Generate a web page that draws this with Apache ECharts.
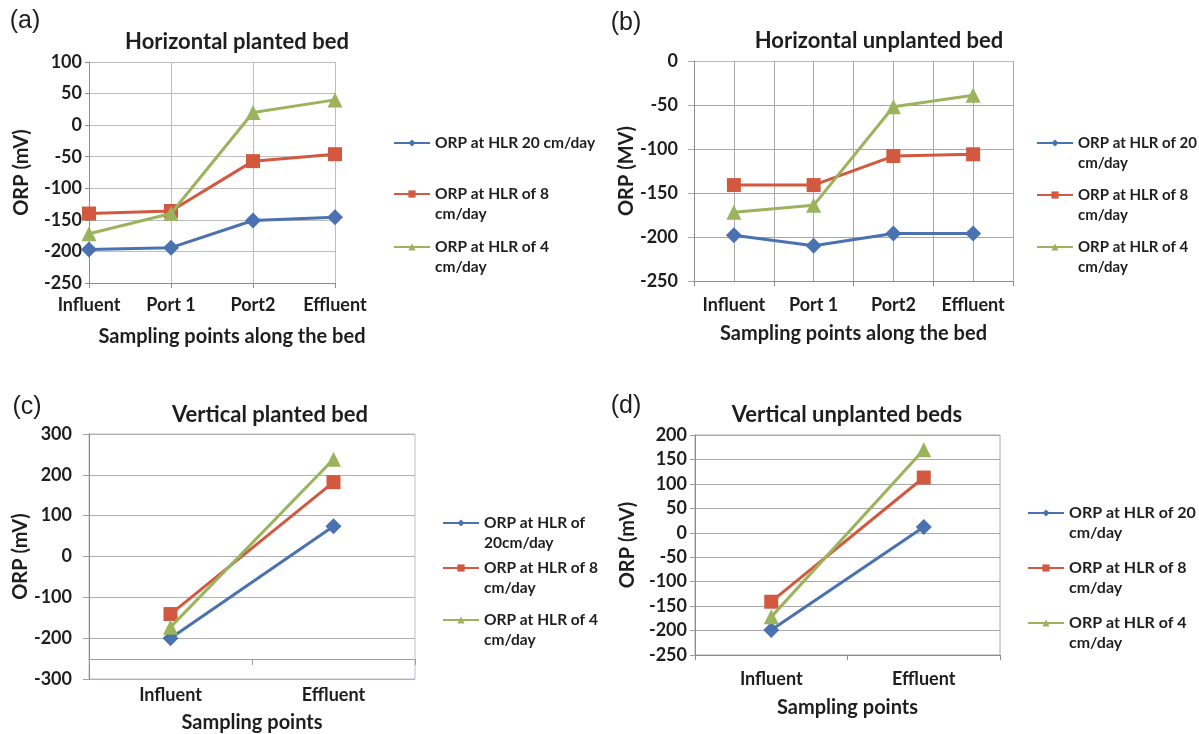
<!DOCTYPE html>
<html>
<head>
<meta charset="utf-8">
<script src="https://cdn.jsdelivr.net/npm/echarts@6/dist/echarts.min.js"></script>
<style>
  html, body { margin: 0; padding: 0; background: #fff; }
  #chart { width: 1199px; height: 734px; }
</style>
</head>
<body>
<div id="chart"></div>
<script>
// Sampling points along each bed
const bedPoints = ['Influent', 'Port 1', 'Port2', 'Effluent'];
const endPoints = ['Influent', 'Effluent'];

// (a) Horizontal planted bed, ORP (mV)
const hpHLR20 = [-197, -194, -151, -146];
const hpHLR8 = [-140, -136, -57, -46];
const hpHLR4 = [-172, -140, 20, 40];

// (b) Horizontal unplanted bed, ORP (mV)
const huHLR20 = [-198, -210, -196, -196];
const huHLR8 = [-141, -141, -108, -106];
const huHLR4 = [-172, -164, -52, -39];

// (c) Vertical planted bed, ORP (mV)
const vpHLR20 = [-200, 74];
const vpHLR8 = [-141, 182];
const vpHLR4 = [-173, 238];

// (d) Vertical unplanted beds, ORP (mV)
const vuHLR20 = [-199, 12];
const vuHLR8 = [-141, 113];
const vuHLR4 = [-172, 170];

// Value-axis tick labels of each panel
const ticksA = [-250, -200, -150, -100, -50, 0, 50, 100];
const ticksB = [-250, -200, -150, -100, -50, 0];
const ticksC = [-300, -200, -100, 0, 100, 200, 300];
const ticksD = [-250, -200, -150, -100, -50, 0, 50, 100, 150, 200];

// Series names (legend text, line breaks as shown)
const namesA = ['ORP at HLR 20 cm/day', 'ORP at HLR of 8\ncm/day', 'ORP at HLR of 4\ncm/day'];
const namesB = ['ORP at HLR of 20\ncm/day', 'ORP at HLR of 8\ncm/day', 'ORP at HLR of 4\ncm/day'];
const namesC = ['ORP at HLR of\n20cm/day', 'ORP at HLR of 8\ncm/day', 'ORP at HLR of 4\ncm/day'];
const namesD = ['ORP at HLR of 20\ncm/day', 'ORP at HLR of 8\ncm/day', 'ORP at HLR of 4\ncm/day'];

const BLUE = '#4a72b0';
const RED = '#d2593f';
const GREEN = '#9bb35c';
const TEXT = '#1e1e1e';
const FONT = 'Lato, "Noto Sans", sans-serif';
const TICK_SIZE = 18;
const NAME_SIZE = 20;

const seriesLook = [
  { color: BLUE, symbol: 'diamond', size: 16 },
  { color: RED, symbol: 'rect', size: 14 },
  { color: GREEN, symbol: 'triangle', size: 15 }
];

function makeSeries(names, datasets, xIndex, yIndex) {
  return datasets.map((data, i) => ({
    type: 'line',
    name: names[i],
    data: data,
    xAxisIndex: xIndex,
    yAxisIndex: yIndex,
    symbol: seriesLook[i].symbol,
    symbolSize: seriesLook[i].size,
    showSymbol: true,
    lineStyle: { width: 3, color: seriesLook[i].color },
    itemStyle: { color: seriesLook[i].color },
    emphasis: { disabled: true },
    animation: false,
    z: 3 + i
  }));
}

function tickText(margin) {
  return {
    fontFamily: FONT, fontWeight: 'bold', fontSize: TICK_SIZE, color: TEXT,
    margin: margin, interval: 0, hideOverlap: false
  };
}

function valueAxis(gridIndex, ticks, opts) {
  return Object.assign({
    type: 'value',
    gridIndex: gridIndex,
    min: ticks[0],
    max: ticks[ticks.length - 1],
    interval: ticks[1] - ticks[0],
    name: 'ORP (mV)',
    nameLocation: 'middle',
    nameGap: 57,
    nameTextStyle: { fontFamily: FONT, fontWeight: 'bold', fontSize: NAME_SIZE, color: TEXT },
    axisLine: { show: true, lineStyle: { color: '#8c8c8c', width: 1 } },
    axisTick: { show: true, length: 4, lineStyle: { color: '#8c8c8c' } },
    axisLabel: tickText(8),
    splitLine: { show: true, lineStyle: { color: '#bdbdbd', width: 1 } }
  }, opts || {});
}

function categoryAxis(gridIndex, cats, opts) {
  return Object.assign({
    type: 'category',
    gridIndex: gridIndex,
    data: cats,
    boundaryGap: true,
    position: 'bottom',
    nameLocation: 'middle',
    nameGap: 43,
    nameTextStyle: { fontFamily: FONT, fontWeight: 'bold', fontSize: NAME_SIZE, color: TEXT },
    axisLine: { show: true, onZero: false, lineStyle: { color: '#8c8c8c', width: 1 } },
    axisTick: { show: true, length: 5, lineStyle: { color: '#8c8c8c' } },
    axisLabel: tickText(15),
    splitLine: { show: false }
  }, opts || {});
}

// One legend block per series, so each entry sits at its own height;
// a leading blank line keeps the marker level with the first text line.
const LH = 20;
function legendEntry(name, left, iconY, fontSize) {
  const twoLines = name.indexOf('\n') >= 0;
  return {
    data: [name],
    left: left,
    top: twoLines ? iconY - 1.5 * LH : iconY - LH / 2,
    orient: 'vertical',
    padding: 0,
    itemGap: 0,
    itemWidth: 36,
    itemHeight: 9,
    selectedMode: false,
    formatter: (n) => (n.indexOf('\n') >= 0 ? '\n' + n : n),
    textStyle: { fontFamily: FONT, fontWeight: 'bold', fontSize: fontSize, color: TEXT, lineHeight: LH }
  };
}

function label(text, x, y, size, weight, family) {
  return {
    type: 'text',
    x: x,
    y: y,
    style: {
      text: text,
      fill: TEXT,
      font: (weight || 'normal') + ' ' + size + 'px ' + (family || FONT),
      align: 'center',
      verticalAlign: 'middle'
    },
    silent: true
  };
}

const chart = echarts.init(document.getElementById('chart'), null, { renderer: 'canvas' });

const option = {
  backgroundColor: '#ffffff',
  animation: false,
  grid: [
    { left: 89, top: 62, width: 246, height: 221, containLabel: false },
    { left: 694, top: 61, width: 319, height: 220, containLabel: false },
    { left: 89, top: 434, width: 326, height: 245, containLabel: false,
      show: true, borderColor: '#b9bdd6', borderWidth: 1 },
    { left: 695, top: 435, width: 305, height: 220, containLabel: false,
      show: true, borderColor: '#a8a8a8', borderWidth: 1 }
  ],
  xAxis: [
    categoryAxis(0, bedPoints, {
      boundaryGap: false,
      name: 'Sampling points along the bed',
      nameGap: 44,
      nameTextStyle: { fontFamily: FONT, fontWeight: 'bold', fontSize: NAME_SIZE, color: TEXT, padding: [0, 0, 0, 40] },
      axisLabel: tickText(13),
      splitLine: { show: true, lineStyle: { color: '#bdbdbd', width: 1 } }
    }),
    categoryAxis(1, bedPoints, {
      name: 'Sampling points along the bed',
      nameGap: 43,
      axisLabel: tickText(15),
      splitLine: { show: true, lineStyle: { color: '#a8a8a8', width: 1 } }
    }),
    // finer vertical grid for panel (b): one line at every half category
    {
      type: 'category', gridIndex: 1, position: 'bottom',
      data: ['', '', '', '', '', '', '', ''],
      boundaryGap: true,
      axisLine: { show: false }, axisTick: { show: false }, axisLabel: { show: false },
      splitLine: { show: true, lineStyle: { color: '#a8a8a8', width: 1 } }
    },
    categoryAxis(2, endPoints, {
      name: 'Sampling points',
      offset: -20,
      nameGap: 54,
      axisLabel: tickText(27),
      axisTick: { show: true, length: 6, lineStyle: { color: '#a0a0a0' } },
      axisLine: { show: true, onZero: false, lineStyle: { color: '#a0a0a0', width: 1 } }
    }),
    categoryAxis(3, endPoints, {
      name: 'Sampling points',
      nameGap: 43,
      axisLabel: tickText(15)
    })
  ],
  yAxis: [
    valueAxis(0, ticksA, { axisLabel: tickText(7) }),
    valueAxis(1, ticksB, {
      name: 'ORP (MV)',
      axisTick: { show: true, length: 6, lineStyle: { color: '#a8a8a8' } },
      axisLabel: tickText(16),
      splitLine: {
        show: true,
        lineStyle: { color: ['#a8a8a8', '#a8a8a8', '#a8a8a8', '#a8a8a8', '#a8a8a8', '#b4b4e0'], width: 1 }
      }
    }),
    valueAxis(2, ticksC, {
      axisTick: { show: true, length: 6, lineStyle: { color: '#a0a0a0' } },
      axisLabel: tickText(17),
      splitLine: { show: true, lineStyle: { color: '#b0b0b0', width: 1 } }
    }),
    valueAxis(3, ticksD, {
      axisTick: { show: true, length: 5, lineStyle: { color: '#a0a0a0' } },
      axisLabel: tickText(8),
      splitLine: { show: true, lineStyle: { color: '#a8a8a8', width: 1 } }
    })
  ],
  legend: [
    legendEntry(namesA[0], 393, 143, 15.5),
    legendEntry(namesA[1], 393, 194, 15.5),
    legendEntry(namesA[2], 393, 247, 15.5),
    legendEntry(namesB[0], 1036, 143, 15),
    legendEntry(namesB[1], 1036, 195, 15),
    legendEntry(namesB[2], 1036, 247, 15),
    legendEntry(namesC[0], 442, 523, 15.5),
    legendEntry(namesC[1], 442, 568, 15.5),
    legendEntry(namesC[2], 442, 620, 15.5),
    legendEntry(namesD[0], 1027, 513, 16),
    legendEntry(namesD[1], 1027, 568, 16),
    legendEntry(namesD[2], 1027, 623, 16)
  ],
  graphic: [
    label('(a)', 25, 21, 25, 'normal', '"Liberation Sans", Arial, sans-serif'),
    label('(b)', 626, 23, 25, 'normal', '"Liberation Sans", Arial, sans-serif'),
    label('(c)', 27, 407, 25, 'normal', '"Liberation Sans", Arial, sans-serif'),
    label('(d)', 626, 406, 25, 'normal', '"Liberation Sans", Arial, sans-serif'),
    label('Horizontal planted bed', 237, 42, 22, 'bold'),
    label('Horizontal unplanted bed', 879, 41, 22, 'bold'),
    label('Vertical planted bed', 270, 415, 22, 'bold'),
    label('Vertical unplanted beds', 847, 415, 22, 'bold')
  ],
  series: [].concat(
    makeSeries(namesA, [hpHLR20, hpHLR8, hpHLR4], 0, 0),
    makeSeries(namesB, [huHLR20, huHLR8, huHLR4], 1, 1),
    makeSeries(namesC, [vpHLR20, vpHLR8, vpHLR4], 3, 2),
    makeSeries(namesD, [vuHLR20, vuHLR8, vuHLR4], 4, 3)
  )
};

chart.setOption(option);
</script>
</body>
</html>
